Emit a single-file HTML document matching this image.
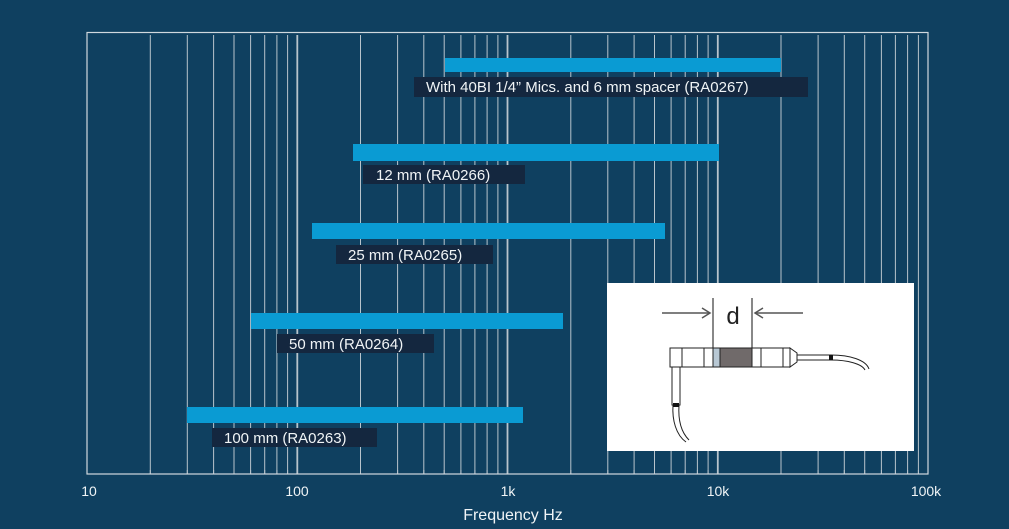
<!DOCTYPE html>
<html><head><meta charset="utf-8"><style>
html,body{margin:0;padding:0;background:#0f4060;}
svg{display:block;font-family:"Liberation Sans",sans-serif;}
</style></head><body>
<svg id="s" width="1009" height="529" viewBox="0 0 1009 529" xmlns="http://www.w3.org/2000/svg">
<rect width="1009" height="529" fill="#0f4060"/>
<g id="grid" stroke="#b8c4cc" stroke-width="1"></g>
<rect x="87" y="32.5" width="841" height="441.5" fill="none" stroke="#d0d8de" stroke-width="1.2"/>
<g fill="#0a9bd3">
<rect x="445" y="58" width="336" height="14"/>
<rect x="353" y="144" width="366" height="17"/>
<rect x="312" y="223" width="353" height="16"/>
<rect x="251" y="313" width="312" height="16"/>
<rect x="187" y="407" width="336" height="16"/>
</g>
<g fill="#14273f">
<rect x="414" y="77" width="394" height="20"/>
<rect x="363" y="165" width="162" height="19"/>
<rect x="336" y="245" width="157" height="19"/>
<rect x="277" y="334" width="157" height="19"/>
<rect x="212" y="428" width="165" height="19"/>
</g>
<g fill="#f0f4f6" font-size="15">
<text x="426" y="92">With 40BI 1/4” Mics. and 6 mm spacer (RA0267)</text>
<text x="376" y="180">12 mm (RA0266)</text>
<text x="348" y="260">25 mm (RA0265)</text>
<text x="289" y="349">50 mm (RA0264)</text>
<text x="224" y="443">100 mm (RA0263)</text>
</g>
<g fill="#f0f4f6" font-size="14" text-anchor="middle">
<text x="89" y="496">10</text>
<text x="297" y="496">100</text>
<text x="508" y="496">1k</text>
<text x="718" y="496">10k</text>
<text x="926" y="496">100k</text>
<text x="513" y="520" font-size="16">Frequency Hz</text>
</g>
<rect x="607" y="283" width="307" height="168" fill="#fff"/>
<g stroke="#555" stroke-width="1.5" fill="none">
<line x1="662" y1="313" x2="710" y2="313"/><polyline points="702,308 710,313 702,318"/>
<line x1="803" y1="313" x2="755" y2="313"/><polyline points="763,308 755,313 763,318"/>
</g>
<g stroke="#111" stroke-width="1">
<line x1="713" y1="298" x2="713" y2="367"/>
<line x1="752" y1="298" x2="752" y2="367"/>
</g>
<text x="733" y="324" font-size="24" fill="#222" text-anchor="middle">d</text>
<g stroke="#222" stroke-width="1">
<rect x="670" y="348" width="120" height="19" fill="#fff"/>
<rect x="713" y="348" width="7" height="19" fill="#b8c8d4"/>
<rect x="720" y="348" width="32" height="19" fill="#706a6a"/>
<line x1="682" y1="348" x2="682" y2="367"/>
<line x1="704" y1="348" x2="704" y2="367"/>
<line x1="761" y1="348" x2="761" y2="367"/>
<line x1="783" y1="348" x2="783" y2="367"/>
<polygon points="790,348 797,353 797,362 790,367" fill="#fff"/>
<rect x="797" y="355" width="34" height="5" fill="#fff"/>
<rect x="672" y="367" width="8" height="38" fill="#fff"/>
<path d="M831,355 C850,355 866,360 869,369 M831,360 C848,360 862,364 865,370" fill="none"/>
<path d="M673,405 C672,420 676,435 686,442 M679,405 C678,420 681,432 689,440" fill="none"/>
</g>
<rect x="829" y="355" width="4" height="5" fill="#111"/>
<rect x="673" y="403" width="6" height="4" fill="#111"/>
</svg>
<script>
var g=document.getElementById('grid'),s='';
for(var d=0;d<4;d++){for(var m=1;m<=10;m++){if(m==1&&d==0)continue;
var x=87+210.25*(d+Math.log10(m));if(x>927)continue;
s+='<line x1="'+x.toFixed(1)+'" y1="35" x2="'+x.toFixed(1)+'" y2="474"'+(m==10?' stroke-width="1.8"':'')+'/>';
s+='<line x1="'+x.toFixed(1)+'" y1="470" x2="'+x.toFixed(1)+'" y2="474"/>';}}
g.innerHTML=s;
</script>
</body></html>
